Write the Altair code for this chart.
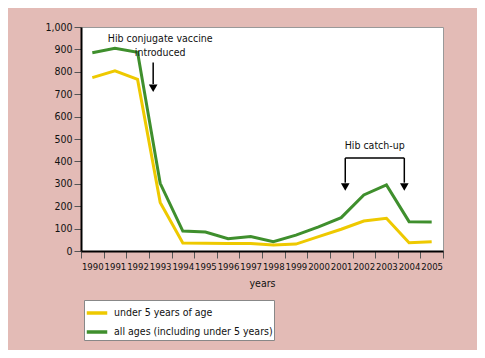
import altair as alt
import pandas as pd

years = list(range(1990, 2006))
under5 = [774, 804, 766, 217, 36, 35, 33, 33, 27, 31, 64, 97, 134, 146, 37, 41]
all_ages = [885, 905, 887, 302, 89, 85, 55, 65, 42, 71, 108, 149, 250, 295, 131, 130]
series_names = ["under 5 years of age", "all ages (including under 5 years)"]
series_colors = ["#EEC900", "#3F8F2D"]
y_ticks = list(range(0, 1001, 100))
x_ticks = [1989.5 + i for i in range(17)]

# annotation values (data coordinates)
vacc_text = ["Hib conjugate vaccine", "introduced"]
vacc_text_y = [946, 886]
vacc_text_x = [1993.0, 1993.0]
vacc_arrow_x = 1992.69
vacc_arrow_y = [841, 745]
vacc_head_y = 727

catch_text = ["Hib catch-up"]
catch_text_x = [2002.48]
catch_text_y = [468]
catch_x = [2001.18, 2003.79]
catch_top = 415
catch_bottom = 305
catch_head_y = 286

FONT = "'Liberation Sans Narrow', 'DejaVu Sans Condensed', 'Arial Narrow', 'Liberation Sans', sans-serif"
W, H = 362, 224

df = pd.DataFrame({
    "year": years * 2,
    "value": under5 + all_ages,
    "series": [series_names[0]] * len(years) + [series_names[1]] * len(years),
})

xscale = alt.Scale(domain=[1989.5, 2005.5], nice=False, zero=False)
yscale = alt.Scale(domain=[0, 1000], nice=False)

x_axis = alt.Axis(values=x_ticks,
                  labelExpr="datum.value < 2005 ? toString(datum.value + 0.5) : ''",
                  labelOffset=W / 16 / 2, labelFlush=False, labelOverlap=False,
                  labelFontSize=9.5,
                  tickSize=7, labelPadding=3, titlePadding=8,
                  domainColor="black", domainWidth=2, tickColor="#555",
                  grid=False)
y_axis = alt.Axis(values=y_ticks,
                  labelExpr="format(datum.value, ',.0f')",
                  tickSize=7, labelPadding=2,
                  labelOverlap=False, labelFlush=False,
                  domainColor="black", domainWidth=2, tickColor="#555",
                  grid=False)


def X(f):
    return alt.X(f, scale=xscale, axis=x_axis, title="years")


def Y(f):
    return alt.Y(f, scale=yscale, axis=y_axis, title=None)


lines = alt.Chart(df).mark_line(strokeWidth=3, strokeJoin="miter").encode(
    x=X("year:Q"),
    y=Y("value:Q"),
    color=alt.Color("series:N",
                    scale=alt.Scale(domain=series_names, range=series_colors),
                    sort=series_names,
                    legend=alt.Legend(title=None, orient="none", legendX=3, legendY=273,
                                      symbolType="stroke", symbolSize=420,
                                      symbolStrokeWidth=3.5, fillColor="white",
                                      strokeColor="#888", padding=1, rowPadding=0,
                                      labelOffset=5,
                                      labelFont=FONT, labelFontSize=10.5, labelColor="#111",
                                      labelLimit=300, offset=0)),
)

vt = pd.DataFrame({"x": vacc_text_x, "y": vacc_text_y, "t": vacc_text})
vacc_label = alt.Chart(vt).mark_text(font=FONT, fontSize=10.5, color="#111").encode(
    x=X("x:Q"), y=Y("y:Q"), text="t:N")

va = pd.DataFrame({"x": [vacc_arrow_x], "y": [vacc_arrow_y[0]], "y2": [vacc_arrow_y[1]]})
vacc_shaft = alt.Chart(va).mark_rule(color="black", strokeWidth=1.5).encode(
    x=X("x:Q"), y=Y("y:Q"), y2="y2:Q")

ct = pd.DataFrame({"x": catch_text_x, "y": catch_text_y, "t": catch_text})
catch_label = alt.Chart(ct).mark_text(font=FONT, fontSize=10.5, color="#111").encode(
    x=X("x:Q"), y=Y("y:Q"), text="t:N")

cb = pd.DataFrame({"x": [catch_x[0]], "x2": [catch_x[1]], "y": [catch_top]})
catch_bar = alt.Chart(cb).mark_rule(color="black", strokeWidth=1.5).encode(
    x=X("x:Q"), x2="x2:Q", y=Y("y:Q"))

cv = pd.DataFrame({"x": catch_x, "y": [catch_top] * 2, "y2": [catch_bottom] * 2})
catch_legs = alt.Chart(cv).mark_rule(color="black", strokeWidth=1.5).encode(
    x=X("x:Q"), y=Y("y:Q"), y2="y2:Q")

heads_df = pd.DataFrame({"x": [vacc_arrow_x] + catch_x,
                         "y": [vacc_head_y, catch_head_y, catch_head_y]})
heads = alt.Chart(heads_df).mark_point(shape="triangle-down", filled=True, color="black",
                                       opacity=1, size=75).encode(
    x=X("x:Q"), y=Y("y:Q"))

chart = alt.layer(lines, vacc_label, vacc_shaft, catch_label, catch_bar, catch_legs, heads).properties(
    width=W, height=H,
    autosize=alt.AutoSizeParams(type="none"),
    padding={"left": 73, "top": 19, "right": 34, "bottom": 99},
    background="#E3BBB6",
).configure_view(
    fill="white", stroke="#999", strokeWidth=1
).configure_axis(
    labelFont=FONT, labelFontSize=10.5, labelColor="#111",
    titleFont=FONT, titleFontSize=10.5, titleFontWeight="normal", titleColor="#111",
)

chart.save("out.html", embed_options={"renderer": "svg", "actions": False})
